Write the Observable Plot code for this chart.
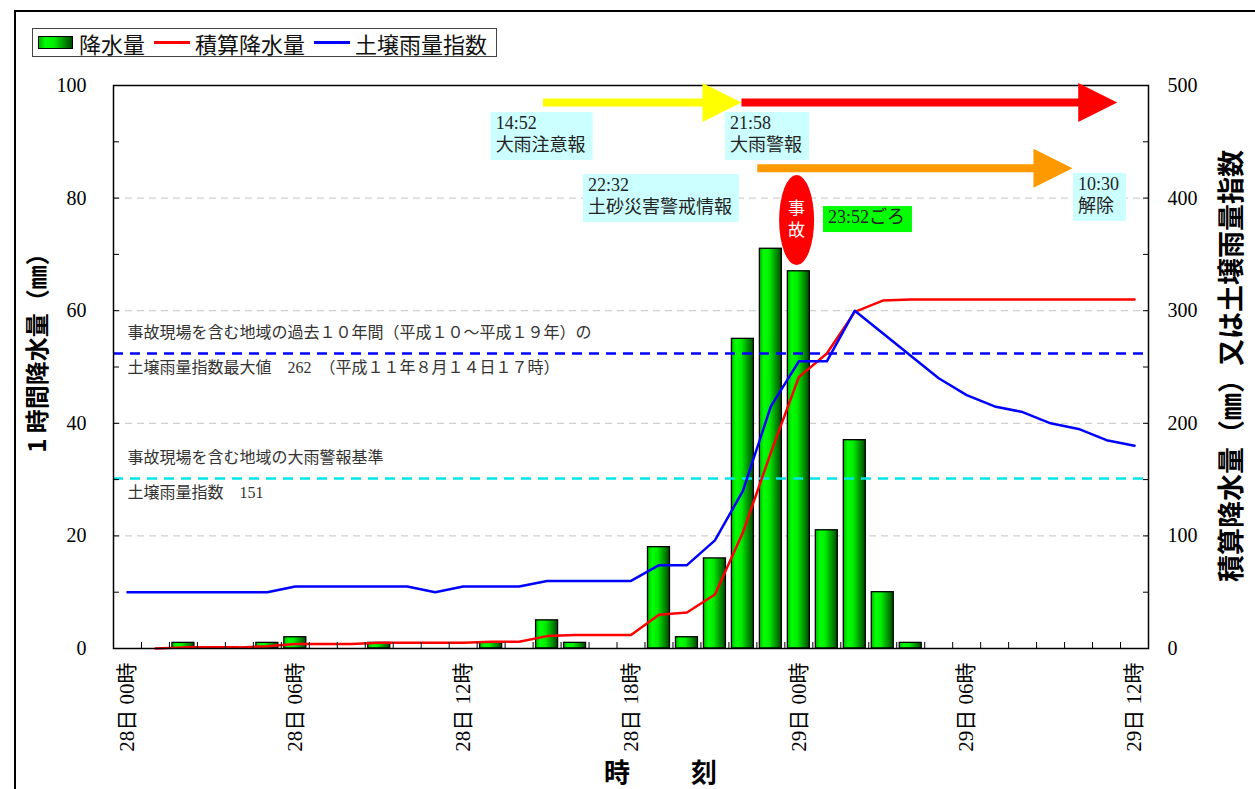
<!DOCTYPE html>
<html>
<head>
<meta charset="utf-8">
<script src="https://cdn.jsdelivr.net/npm/d3@7"></script>
<script src="https://cdn.jsdelivr.net/npm/@observablehq/plot@0.6"></script>
<style>
  body { margin: 0; background: #fff; overflow: hidden; }
  #wrap { position: relative; width: 1255px; height: 789px; overflow: hidden; background: #fff; }
  #chart { position: absolute; left: 0; top: 0; }
  #frame { position: absolute; left: 14px; top: 10px; width: 1400px; height: 1000px; border: 2px solid #000; box-sizing: border-box; pointer-events: none; }
  #legend { position: absolute; left: 32px; top: 28px; width: 465px; height: 29px; border: 1px solid #444; box-sizing: border-box;
            display: flex; align-items: center; padding-left: 5px; background: #fff;
            font: 22px "Noto Sans CJK JP", sans-serif; color: #111; white-space: nowrap; }
  #legend .sw { width: 33px; height: 11px; border: 1px solid #000; margin-right: 6px;
                background: linear-gradient(to right, #00b400, #00ff00 20%, #00ee00 45%, #004800); }
  #legend .ln { width: 36px; height: 3px; margin: 0 5px 0 9px; }
  .title { position: absolute; font-family: "Noto Sans CJK JP", sans-serif; font-weight: bold; color: #000; white-space: nowrap; }
  #ytitle { left: 35px; top: 347px; font-size: 24px; transform: translate(-50%, -50%) rotate(-90deg); }
  #y2title { left: 1229px; top: 366px; font-size: 27px; transform: translate(-50%, -50%) rotate(-90deg); }
  #xtitle { left: 662px; top: 770px; font-size: 26px; letter-spacing: 3px; transform: translate(-50%, -50%); }
</style>
</head>
<body>
<div id="wrap">
  <div id="chart"></div>
  <div id="legend">
    <span class="sw"></span><span>降水量</span>
    <span class="ln" style="background:#ff0000"></span><span>積算降水量</span>
    <span class="ln" style="background:#0000ff"></span><span>土壌雨量指数</span>
  </div>
  <div class="title" id="ytitle">1 時間降水量（㎜）</div>
  <div class="title" id="y2title">積算降水量（㎜）又は土壌雨量指数</div>
  <div class="title" id="xtitle">時　　刻</div>
  <div id="frame"></div>
</div>
<script>
// ---------- data ----------
// hour index: 0 = 28日00時 ... 36 = 29日12時
const hours = [0,1,2,3,4,5,6,7,8,9,10,11,12,13,14,15,16,17,18,19,20,21,22,23,24,25,26,27,28,29,30,31,32,33,34,35,36];
// 1時間降水量 (mm)
const rain = [0,0,1,0,0,1,2,0,0,1,0,0,0,1,0,5,1,0,0,18,2,16,55,71,67,21,37,10,1,0,0,0,0,0,0,0,0];
// 積算降水量 (mm), starts at 01時
const cumulative = [null,0,1,1,1,2,4,4,4,5,5,5,5,6,6,11,12,12,12,30,32,48,103,174,241,262,299,309,310,310,310,310,310,310,310,310,310];
// 土壌雨量指数
const soilIndex = [50,50,50,50,50,50,55,55,55,55,55,50,55,55,55,60,60,60,60,74,74,96,140,215,255,255,300,280,260,240,225,215,210,200,195,185,180];

const xTickHours = [0,6,12,18,24,30,36];
const xTickLabels = ["28日 00時","28日 06時","28日 12時","28日 18時","29日 00時","29日 06時","29日 12時"];
const leftTicks = [0,20,40,60,80,100];
const leftMinorTicks = [0,10,20,30,40,50,60,70,80,90,100];
const gridValues = [20,40,60,80];
const rightPerLeft = 5; // right axis 0-500 vs left 0-100

const thresholdValues = [262, 151];
const thresholdColors = ["#0000ff", "#00e5e5"];
const thresholdNotes = [
  ["事故現場を含む地域の過去１０年間（平成１０～平成１９年）の", "土壌雨量指数最大値　262　（平成１１年８月１４日１７時）"],
  ["事故現場を含む地域の大雨警報基準", "土壌雨量指数　151"]
];

// event times ("day hh:mm") -> hour index
const toHour = s => { const [d, t] = s.split(" "); const [h, m] = t.split(":").map(Number); return (+d - 28) * 24 + h + m / 60; };
const arrowFrom = ["28 14:52", "28 21:58", "28 22:32"];
const arrowTo = [toHour("28 21:58"), 35.4, 33.8];
const arrowColors = ["#ffff00", "#ff0000", "#ff9900"];
const arrowLevels = [96.9, 96.9, 85.2];

const labelTexts = [["14:52", "大雨注意報"], ["21:58", "大雨警報"], ["22:32", "土砂災害警戒情報"], ["10:30", "解除"]];
const labelX = [13.0, 21.38, 16.3, 33.82];
const labelY = [95.2, 95.2, 84.2, 84.4];
const accidentTime = "28 23:52";
const accidentText = "23:52ごろ";

// ---------- build tables ----------
const rainData = hours.map(h => ({h, v: rain[h]})).filter(d => d.v > 0);
const cumData = hours.map(h => ({h, v: cumulative[h]})).filter(d => d.v != null);
const soilData = hours.map(h => ({h, v: soilIndex[h]}));
const boundaries = hours.slice(0, -1).map(h => h + 0.5);
const xLabelMap = new Map(xTickHours.map((h, i) => [h, xTickLabels[i]]));
const serif = '"Liberation Serif", "Noto Sans CJK JP", serif';

const noteAbove = thresholdValues.map((v, i) => ({y: v / rightPerLeft, text: thresholdNotes[i][0]}));
const noteBelow = thresholdValues.map((v, i) => ({y: v / rightPerLeft, text: thresholdNotes[i][1]}));

const plot = Plot.plot({
  width: 1255,
  height: 789,
  marginLeft: 113,
  marginRight: 107,
  marginTop: 85,
  marginBottom: 141,
  style: {fontFamily: serif, fontSize: "19px", color: "#000", background: "transparent", overflow: "visible"},
  x: {type: "linear", domain: [-0.5, 36.5], axis: null},
  y: {domain: [0, 100], axis: null},
  marks: [
    Plot.ruleY(gridValues, {stroke: "#c4c4c4", strokeDasharray: "7,5", strokeWidth: 1}),
    Plot.rectY(rainData, {x1: d => d.h - 0.5, x2: d => d.h + 0.5, y1: 0, y2: "v", insetLeft: 3, insetRight: 3,
                          fill: "url(#barGrad)", stroke: "#000", strokeWidth: 1.3}),
    Plot.ruleY(thresholdValues, {y: d => d / rightPerLeft, stroke: (d, i) => thresholdColors[i], strokeWidth: 2.5, strokeDasharray: "10,7"}),
    Plot.line(cumData, {x: "h", y: d => d.v / rightPerLeft, stroke: "#ff0000", strokeWidth: 2.5}),
    Plot.line(soilData, {x: "h", y: d => d.v / rightPerLeft, stroke: "#0000ff", strokeWidth: 2.5}),
    Plot.text(noteAbove, {x: 0, y: "y", text: "text", textAnchor: "start", fontSize: 16, fill: "#333", fontFamily: serif, dy: -21}),
    Plot.text(noteBelow, {x: 0, y: "y", text: "text", textAnchor: "start", fontSize: 16, fill: "#333", fontFamily: serif, dy: 14}),
    Plot.frame({stroke: "#000", strokeWidth: 1.5}),
    Plot.axisY(leftMinorTicks, {anchor: "left", tickSize: -6, tickFormat: () => "", label: null}),
    Plot.axisY(leftMinorTicks, {anchor: "right", tickSize: -6, tickFormat: () => "", label: null}),
    Plot.axisX(boundaries, {anchor: "bottom", tickSize: -6, tickFormat: () => "", label: null}),
    Plot.axisY(leftTicks, {anchor: "left", tickSize: 0, tickPadding: 27, label: null, fontSize: 20}),
    Plot.axisY(leftTicks, {anchor: "right", tickSize: 0, tickPadding: 19, tickFormat: d => d * rightPerLeft, label: null, fontSize: 20}),
    Plot.text(xTickHours, {x: d => d, text: d => xLabelMap.get(d), frameAnchor: "bottom", rotate: -90,
                           textAnchor: "end", lineAnchor: "middle", dy: 14, fontSize: 21, fontFamily: serif})
  ]
});

document.getElementById("chart").appendChild(plot);

// ---------- annotations through the plot's scales ----------
const X = v => plot.scale("x").apply(v);
const Y = v => plot.scale("y").apply(v);
const svg = d3.select(plot);

const defs = svg.insert("defs", ":first-child");
const grad = defs.append("linearGradient").attr("id", "barGrad").attr("x1", 0).attr("x2", 1).attr("y1", 0).attr("y2", 0);
[[0, "#00b400"], [0.2, "#00ff00"], [0.45, "#00ee00"], [1, "#004800"]].forEach(([o, c]) =>
  grad.append("stop").attr("offset", o).attr("stop-color", c));

const ann = svg.append("g").attr("text-anchor", "start");

// arrows
arrowFrom.forEach((f, i) => {
  const x0 = X(toHour(f)), x1 = X(arrowTo[i]), yc = Y(arrowLevels[i]);
  const h = 4, H = 19.5, L = 39;
  const pts = [[x0, yc - h], [x1 - L, yc - h], [x1 - L, yc - H], [x1, yc], [x1 - L, yc + H], [x1 - L, yc + h], [x0, yc + h]];
  ann.append("polygon").attr("points", pts.map(p => p.join(",")).join(" ")).attr("fill", arrowColors[i]);
});

function box(lines, x, y, fill, lineH, fs) {
  const px = X(x), py = Y(y);
  const g = ann.append("g");
  const rect = g.append("rect").attr("fill", fill);
  const t = g.append("text").attr("font-size", fs).attr("fill", "#222").attr("font-family", serif).attr("text-anchor", "start");
  lines.forEach((l, i) => t.append("tspan").attr("x", px + 5).attr("y", py + 17 + i * lineH).text(l));
  const bb = t.node().getBBox();
  rect.attr("x", px).attr("y", py).attr("width", bb.width + 12).attr("height", lines.length * lineH + 4);
}
labelTexts.forEach((lines, i) => box(lines, labelX[i], labelY[i], "#ccffff", 22, 18));

// accident marker
const ax = X(toHour(accidentTime)) + 2, ay = Y(76.0);
ann.append("ellipse").attr("cx", ax).attr("cy", ay).attr("rx", 17.5).attr("ry", 45).attr("fill", "#ff0000");
["事", "故"].forEach((c, i) => ann.append("text").attr("x", ax).attr("y", ay - 6 + i * 22).attr("text-anchor", "middle")
  .attr("font-size", 17).attr("fill", "#fff").attr("font-family", serif).text(c));
box([accidentText], 24.88, 78.5, "#00ff00", 22, 18);
</script>
</body>
</html>
